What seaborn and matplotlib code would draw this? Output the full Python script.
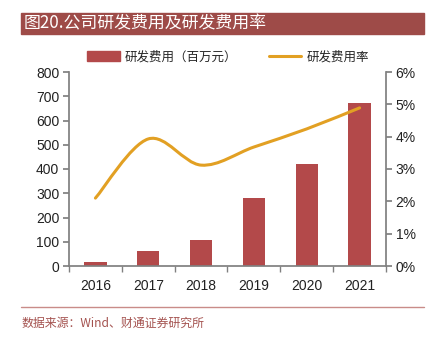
import numpy as np
import pandas as pd
import matplotlib
matplotlib.use("Agg")
import matplotlib.pyplot as plt
import seaborn as sns
from matplotlib.path import Path
from matplotlib.patches import PathPatch, Rectangle
from matplotlib.lines import Line2D
from matplotlib.ticker import FuncFormatter

years = ["2016", "2017", "2018", "2019", "2020", "2021"]
rd_expense = [15, 62, 107, 280, 420, 672]          # 百万元
rd_ratio = [2.10, 3.93, 3.12, 3.68, 4.24, 4.89]     # %

sns.set_theme(style="white")
plt.rcParams["font.family"] = ["Liberation Sans", "Noto Sans CJK SC", "DejaVu Sans"]

BAR = "#B3494A"
LINE = "#E2A023"
HEAD = "#9E4B48"
SPINE = "#808080"

fig = plt.figure(figsize=(4.34, 3.39), dpi=100)
W, H = 434, 339
ax = fig.add_axes([69 / W, 1 - 266 / H, (386 - 69) / W, (266 - 72) / H])

df = pd.DataFrame({"year": years, "expense": rd_expense})
sns.barplot(data=df, x="year", y="expense", color=BAR, saturation=1,
            width=0.42, ax=ax, edgecolor="none")
ax.set_ylim(0, 800)
ax.set_xlim(-0.5, 5.5)
ax.set_yticks(range(0, 801, 100))
ax.set_xlabel("")
ax.set_ylabel("")

ax2 = ax.twinx()
ax2.set_ylim(0, 6)
ax2.set_yticks(range(0, 7))
ax2.yaxis.set_major_formatter(FuncFormatter(lambda v, p: f"{int(v)}%"))

# smoothed line through the ratio points (Catmull-Rom as cubic Bezier)
xs = np.arange(len(years), dtype=float)
ys = np.array(rd_ratio, dtype=float)
pts = np.column_stack([xs, ys])
verts = [pts[0]]
codes = [Path.MOVETO]
n = len(pts)
for i in range(n - 1):
    p0 = pts[i - 1] if i > 0 else pts[i]
    p1 = pts[i]
    p2 = pts[i + 1]
    p3 = pts[i + 2] if i + 2 < n else pts[i + 1]
    c1 = p1 + (p2 - p0) / 6.0
    c2 = p2 - (p3 - p1) / 6.0
    verts += [c1, c2, p2]
    codes += [Path.CURVE4] * 3
ax2.add_patch(PathPatch(Path(verts, codes), facecolor="none", edgecolor=LINE,
                        lw=2.2, capstyle="round", zorder=3))

for a in (ax, ax2):
    for s in a.spines.values():
        s.set_visible(False)
ax.spines["left"].set_visible(True)
ax.spines["left"].set_color(SPINE)
ax.spines["bottom"].set_visible(True)
ax.spines["bottom"].set_color(SPINE)
ax2.spines["right"].set_visible(True)
ax2.spines["right"].set_color(SPINE)

ax.tick_params(axis="y", left=True, length=4, color=SPINE, labelsize=10,
               labelcolor="#222222", pad=3)
ax2.tick_params(axis="y", right=True, length=4, color=SPINE, labelsize=10,
                labelcolor="#222222", pad=3)
ax.set_xticks(range(len(years)))
ax.set_xticklabels(years)
ax.set_xticks(np.arange(-0.5, 6.0, 1.0), minor=True)
ax.tick_params(axis="x", which="major", bottom=False, labelsize=10,
               labelcolor="#222222", pad=3)
ax.tick_params(axis="x", which="minor", bottom=True, length=4, color=SPINE)

# header band
fig.patches.append(Rectangle((21 / W, 1 - 34 / H), (424 - 21) / W, 21 / H,
                             transform=fig.transFigure, color=HEAD, zorder=0))
cjk = ["Noto Sans CJK SC", "DejaVu Sans"]
fig.text(24 / W, 1 - 23.5 / H, "图20.公司研发费用及研发费用率", color="white",
         fontsize=12.2, va="center", ha="left", family=cjk)

# legend
handles = [Rectangle((0, 0), 1, 1, color=BAR),
           Line2D([0], [0], color=LINE, lw=2.2)]
fig.legend(handles, ["研发费用（百万元）", "研发费用率"], loc="center",
           bbox_to_anchor=(228 / W, 1 - 57 / H), ncol=2, frameon=False,
           prop={"family": cjk, "size": 9}, handlelength=2.6,
           handleheight=0.8, columnspacing=2.5, handletextpad=0.4)

# footer
fig.add_artist(Line2D([21 / W, 424 / W], [1 - 307 / H, 1 - 307 / H],
                      transform=fig.transFigure, color="#C98C89", lw=1))
fig.text(22 / W, 1 - 323 / H, "数据来源：Wind、财通证券研究所", color="#A4524F",
         fontsize=8.6, va="center", ha="left", family=cjk)

fig.savefig("out.png", dpi=100)
